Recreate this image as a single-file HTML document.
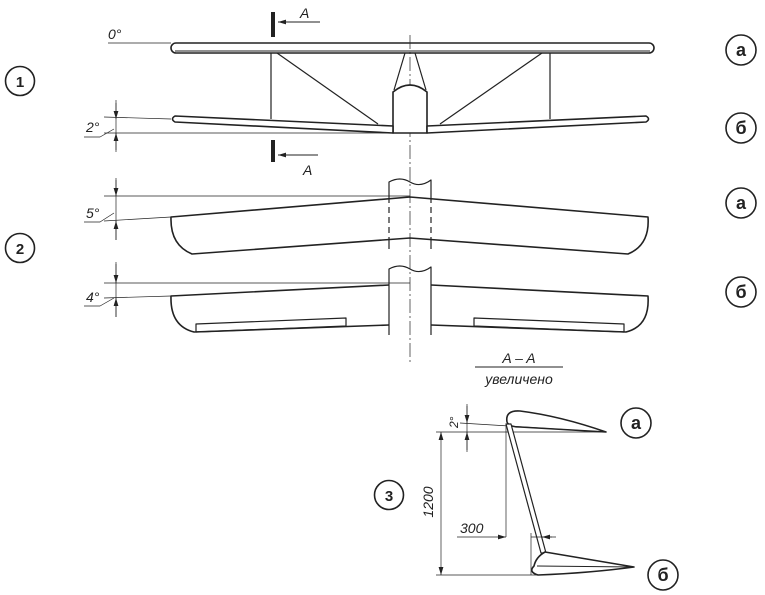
<!DOCTYPE html>
<html><head><meta charset="utf-8"><style>
html,body{margin:0;padding:0;background:#fff}
svg{display:block}
text{font-family:"Liberation Sans",sans-serif;fill:#222}
.it{font-style:italic}
</style></head><body>
<svg width="765" height="595" viewBox="0 0 765 595" xmlns="http://www.w3.org/2000/svg">
<defs>
<marker id="ar" viewBox="0 0 10 10" refX="10" refY="5" markerWidth="8" markerHeight="8" orient="auto-start-reverse" markerUnits="userSpaceOnUse"><path d="M0,2 L10,5 L0,8 z" fill="#222"/></marker>
</defs>
<g stroke="#222" fill="none" stroke-width="1.6" stroke-linejoin="round">
<!-- centre line -->
<line x1="410" y1="35" x2="410" y2="365" stroke-width="0.7" stroke-dasharray="14,3,2,3"/>
<!-- ===== 1 biplane ===== -->
<rect x="171" y="43" width="483" height="10" rx="5"/>
<line x1="175" y1="51" x2="650" y2="51" stroke-width="1"/>
<line x1="108" y1="43" x2="171" y2="43" stroke-width="0.7"/>
<line x1="271" y1="53" x2="271" y2="119" stroke-width="1.2"/>
<line x1="550" y1="53" x2="550" y2="119" stroke-width="1.2"/>
<line x1="277" y1="53" x2="378" y2="124" stroke-width="1.2"/>
<line x1="542" y1="53" x2="440" y2="124" stroke-width="1.2"/>
<path d="M405,53 L394,90 M415,53 L426,90" stroke-width="1.2"/>
<path d="M393,133 L393,92 Q410,78 427,92 L427,133 Z" fill="#fff"/>
<!-- lower wing -->
<path d="M393,126 L175,116 Q170,119 175,122 L393,133 Z M427,126 L646,116 Q651,119 646,122 L427,133 Z" fill="#fff"/>
<!-- 2 deg dim -->
<line x1="116" y1="100" x2="116" y2="152" stroke-width="0.7"/>
<line x1="116" y1="103" x2="116" y2="119" stroke-width="0.7" marker-end="url(#ar)"/>
<line x1="116" y1="150" x2="116" y2="133" stroke-width="0.7" marker-end="url(#ar)"/>
<line x1="104" y1="117" x2="171" y2="119" stroke-width="0.7"/>
<line x1="104" y1="133" x2="393" y2="133" stroke-width="0.7"/>
<path d="M84,137 L100,137 L114,129" stroke-width="0.7"/>
<!-- section marks -->
<line x1="273" y1="12" x2="273" y2="37" stroke-width="4"/>
<line x1="320" y1="22" x2="278" y2="22" stroke-width="1" marker-end="url(#ar)"/>
<line x1="273" y1="140" x2="273" y2="162" stroke-width="4"/>
<line x1="318" y1="155" x2="278" y2="155" stroke-width="1" marker-end="url(#ar)"/>
<!-- ===== 2a ===== -->
<path d="M389,249 L389,182 Q400,176 410,182 Q420,188 431,180 L431,249" stroke-width="1.2"/>
<path d="M389,197 L389,238 M431,197 L431,238" stroke="#fff" stroke-width="2.5"/>
<path d="M389,197 L389,238 M431,197 L431,238" stroke-width="1.2" stroke-dasharray="6,4"/>
<path d="M410,197 L171,217 Q170,245 192,254 L410,238 L628,254 Q650,245 648,217 Z"/>
<line x1="104" y1="196" x2="410" y2="196" stroke-width="0.7"/>
<line x1="104" y1="221" x2="171" y2="217" stroke-width="0.7"/>
<line x1="116" y1="178" x2="116" y2="240" stroke-width="0.7"/>
<line x1="116" y1="180" x2="116" y2="196" stroke-width="0.7" marker-end="url(#ar)"/>
<line x1="116" y1="240" x2="116" y2="221" stroke-width="0.7" marker-end="url(#ar)"/>
<path d="M84,222 L100,222 L114,213" stroke-width="0.7"/>
<!-- ===== 2b ===== -->
<path d="M389,335 L389,269 Q400,263 410,269 Q420,275 431,267 L431,335" stroke-width="1.2"/>
<path d="M389,285 L171,296 Q170,326 194,332 L389,325 M431,285 L648,296 Q650,326 626,332 L431,325"/>
<path d="M196,324 L346,318 L346,326 L196,332 Z M474,318 L624,324 L624,332 L474,326 Z" stroke-width="1.2"/>
<line x1="104" y1="283" x2="410" y2="283" stroke-width="0.7"/>
<line x1="104" y1="298" x2="171" y2="296" stroke-width="0.7"/>
<line x1="116" y1="262" x2="116" y2="317" stroke-width="0.7"/>
<line x1="116" y1="264" x2="116" y2="283" stroke-width="0.7" marker-end="url(#ar)"/>
<line x1="116" y1="317" x2="116" y2="298" stroke-width="0.7" marker-end="url(#ar)"/>
<path d="M84,306 L100,306 L114,298" stroke-width="0.7"/>
<!-- ===== 3 section ===== -->
<line x1="475" y1="367" x2="563" y2="367" stroke-width="1"/>
<path d="M507,422 Q505,410 520,411 Q560,416 606,432 L520,427 Q509,427 507,422 Z"/>
<line x1="460" y1="423" x2="606" y2="432" stroke-width="0.7"/>
<line x1="436" y1="432" x2="606" y2="432" stroke-width="0.7"/>
<line x1="467" y1="404" x2="467" y2="452" stroke-width="0.7"/>
<line x1="467" y1="406" x2="467" y2="423" stroke-width="0.7" marker-end="url(#ar)"/>
<line x1="467" y1="450" x2="467" y2="432" stroke-width="0.7" marker-end="url(#ar)"/>
<path d="M506,424 L541,553 L546,553 L511,424 Z" stroke-width="1.2" fill="#fff"/>
<path d="M545,552 L634,567 Q590,573 538,575 Q528,572 534,566 Q536,557 545,552 Z" fill="#fff"/>
<line x1="537" y1="566" x2="634" y2="567" stroke-width="1"/>
<line x1="441" y1="432" x2="441" y2="575" stroke-width="0.7" marker-start="url(#ar)" marker-end="url(#ar)"/>
<line x1="436" y1="575" x2="540" y2="575" stroke-width="0.7"/>
<line x1="506" y1="425" x2="506" y2="537" stroke-width="0.7"/>
<line x1="531" y1="533" x2="531" y2="575" stroke-width="0.7"/>
<line x1="457" y1="537" x2="506" y2="537" stroke-width="0.7" marker-end="url(#ar)"/>
<line x1="556" y1="537" x2="531" y2="537" stroke-width="0.7"/>
<line x1="552" y1="537" x2="542" y2="537" stroke-width="0.7" marker-end="url(#ar)"/>
<!-- circles -->
<circle cx="20" cy="81" r="14.5"/>
<circle cx="20" cy="248" r="14.5"/>
<circle cx="389" cy="495" r="14.5"/>
<circle cx="741" cy="50" r="15"/>
<circle cx="741" cy="128" r="15"/>
<circle cx="741" cy="203" r="15"/>
<circle cx="741" cy="292" r="15"/>
<circle cx="636" cy="423" r="15"/>
<circle cx="663" cy="575" r="15"/>
</g>
<g font-size="15" font-weight="bold" text-anchor="middle">
<text x="20" y="87">1</text>
<text x="20" y="254">2</text>
<text x="389" y="501">3</text>
</g>
<g font-size="18" font-weight="bold" text-anchor="middle" style="font-family:'Liberation Serif',serif">
<text x="741" y="56">а</text>
<text x="741" y="134">б</text>
<text x="741" y="209">а</text>
<text x="741" y="298">б</text>
<text x="636" y="429">а</text>
<text x="663" y="581">б</text>
</g>
<g class="it" font-size="14">
<text x="108" y="39" class="it">0°</text>
<text x="86" y="132" class="it">2°</text>
<text x="86" y="218" class="it">5°</text>
<text x="86" y="302" class="it">4°</text>
<text x="300" y="18" class="it">A</text>
<text x="303" y="175" class="it">A</text>
<text x="519" y="363" class="it" text-anchor="middle">A – A</text>
<text x="519" y="384" class="it" text-anchor="middle">увеличено</text>
<text x="460" y="533" class="it">300</text>
<text class="it" transform="translate(433,502) rotate(-90)" text-anchor="middle">1200</text>
<text class="it" font-size="12" transform="translate(458,428) rotate(-90)">2°</text>
</g>
</svg>
</body></html>
